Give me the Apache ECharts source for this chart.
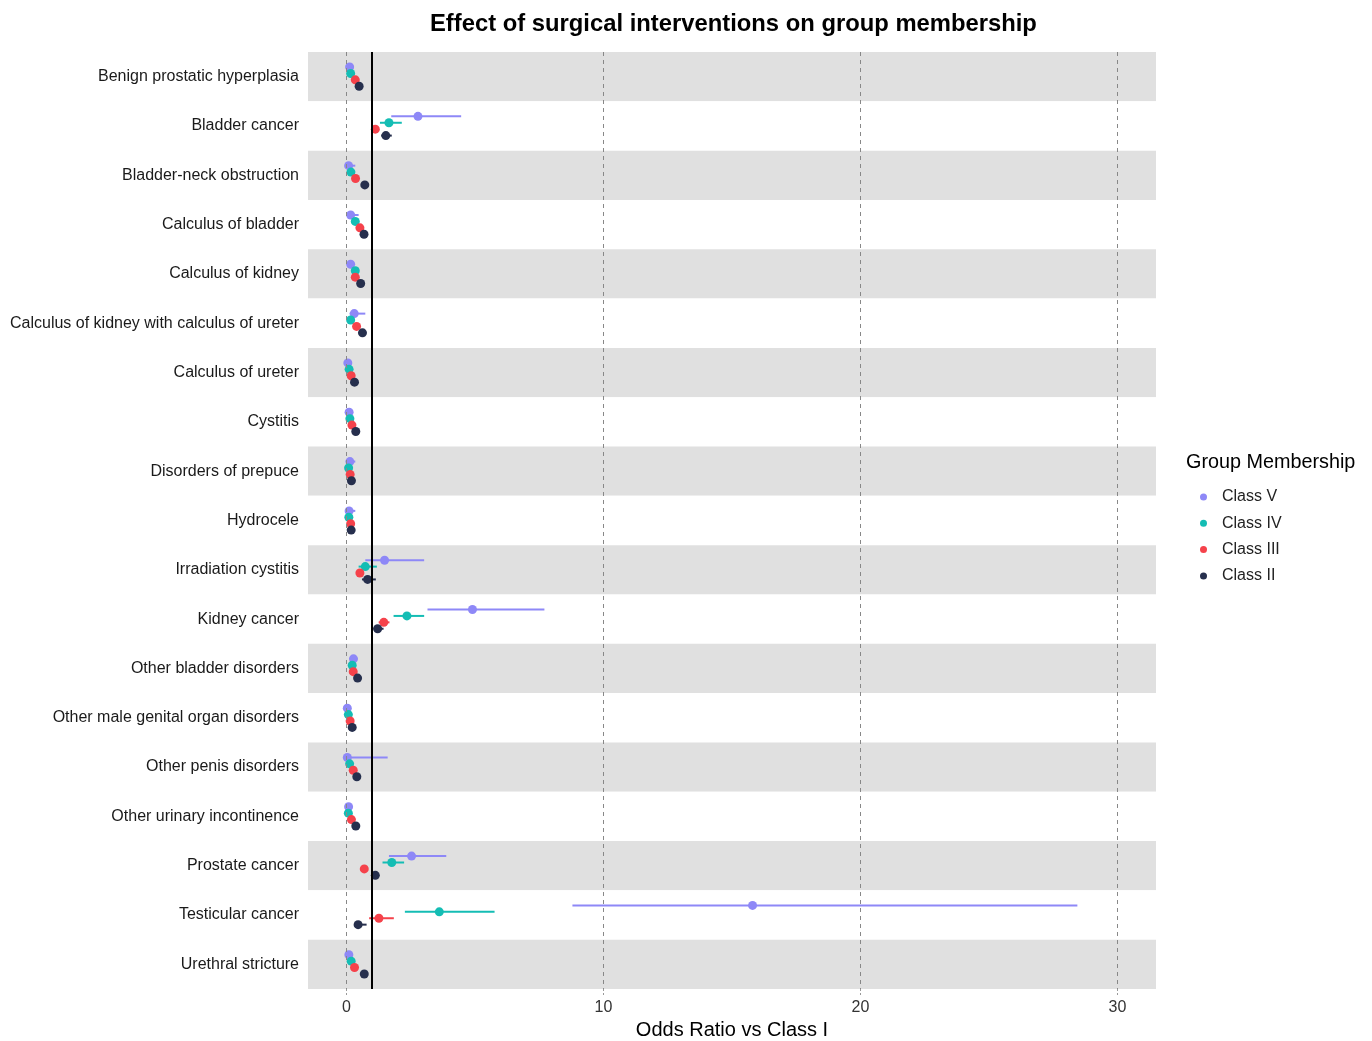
<!DOCTYPE html>
<html>
<head>
<meta charset="utf-8">
<script src="https://cdn.jsdelivr.net/npm/echarts@6/dist/echarts.min.js"></script>
<style>
  html, body { margin: 0; padding: 0; background: #fff; }
  #chart { width: 1372px; height: 1041px; }
</style>
</head>
<body>
<div id="chart"></div>
<script>
const categories = [
  'Benign prostatic hyperplasia',
  'Bladder cancer',
  'Bladder-neck obstruction',
  'Calculus of bladder',
  'Calculus of kidney',
  'Calculus of kidney with calculus of ureter',
  'Calculus of ureter',
  'Cystitis',
  'Disorders of prepuce',
  'Hydrocele',
  'Irradiation cystitis',
  'Kidney cancer',
  'Other bladder disorders',
  'Other male genital organ disorders',
  'Other penis disorders',
  'Other urinary incontinence',
  'Prostate cancer',
  'Testicular cancer',
  'Urethral stricture'
];

// odds ratio estimates and confidence limits, one value per category
const classV_est = [0.12, 2.78, 0.08, 0.16, 0.16, 0.30, 0.05, 0.10, 0.13, 0.10, 1.48, 4.90, 0.27, 0.03, 0.03, 0.08, 2.53, 15.80, 0.09];
const classV_lo  = [0.05, 1.74, 0.03, 0.08, 0.09, 0.12, 0.02, 0.05, 0.05, 0.04, 0.73, 3.15, 0.15, 0.01, 0.01, 0.03, 1.65, 8.79, 0.04];
const classV_hi  = [0.25, 4.46, 0.34, 0.47, 0.28, 0.73, 0.15, 0.22, 0.34, 0.34, 3.02, 7.70, 0.42, 0.12, 1.60, 0.20, 3.88, 28.44, 0.20];

const classIV_est = [0.16, 1.65, 0.17, 0.34, 0.34, 0.16, 0.10, 0.13, 0.08, 0.09, 0.73, 2.35, 0.22, 0.07, 0.12, 0.07, 1.76, 3.61, 0.18];
const classIV_lo  = [0.10, 1.30, 0.10, 0.25, 0.26, 0.08, 0.05, 0.07, 0.03, 0.04, 0.47, 1.83, 0.14, 0.03, 0.06, 0.03, 1.40, 2.27, 0.11];
const classIV_hi  = [0.25, 2.15, 0.28, 0.46, 0.45, 0.30, 0.18, 0.22, 0.18, 0.18, 1.18, 3.02, 0.33, 0.15, 0.22, 0.15, 2.24, 5.76, 0.28];

const classIII_est = [0.34, 1.12, 0.35, 0.52, 0.34, 0.39, 0.18, 0.21, 0.14, 0.16, 0.52, 1.45, 0.26, 0.14, 0.26, 0.19, 0.69, 1.26, 0.31];
const classIII_lo  = [0.28, 1.00, 0.28, 0.44, 0.28, 0.32, 0.14, 0.16, 0.10, 0.12, 0.42, 1.25, 0.20, 0.10, 0.20, 0.14, 0.60, 0.88, 0.25];
const classIII_hi  = [0.41, 1.25, 0.43, 0.61, 0.41, 0.47, 0.23, 0.27, 0.19, 0.21, 0.64, 1.67, 0.33, 0.19, 0.33, 0.25, 0.79, 1.84, 0.38];

const classII_est = [0.49, 1.53, 0.71, 0.68, 0.55, 0.62, 0.31, 0.36, 0.19, 0.18, 0.82, 1.21, 0.43, 0.22, 0.40, 0.36, 1.12, 0.45, 0.69];
const classII_lo  = [0.42, 1.35, 0.62, 0.60, 0.48, 0.54, 0.26, 0.30, 0.15, 0.14, 0.60, 1.05, 0.36, 0.17, 0.33, 0.30, 1.00, 0.35, 0.60];
const classII_hi  = [0.57, 1.76, 0.80, 0.77, 0.63, 0.71, 0.37, 0.43, 0.24, 0.23, 1.14, 1.44, 0.51, 0.27, 0.48, 0.43, 1.25, 0.78, 0.79];

const classNames = ['Class V', 'Class IV', 'Class III', 'Class II'];
const xTicks = [0, 10, 20, 30];
const refValue = 1;

const colors = ['#8e88f7', '#14bdb4', '#f5424b', '#262f4d'];
const dodge = [-0.195, -0.065, 0.065, 0.195];
const font = 'Liberation Sans, Arial, Helvetica, sans-serif';

function rows(est, lo, hi) {
  return est.map((v, i) => [v, i, lo[i], hi[i]]);
}

function forestSeries(name, data, idx) {
  return {
    name: name,
    type: 'custom',
    data: data,
    encode: { x: [0, 2, 3], y: 1 },
    itemStyle: { color: colors[idx] },
    renderItem: function (params, api) {
      const band = api.size([0, 1])[1];
      const off = dodge[idx] * band;
      const p = api.coord([api.value(0), api.value(1)]);
      const a = api.coord([api.value(2), api.value(1)]);
      const b = api.coord([api.value(3), api.value(1)]);
      const y = p[1] + off;
      return {
        type: 'group',
        children: [
          {
            type: 'line',
            z2: 1,
            shape: { x1: a[0], y1: y, x2: b[0], y2: y },
            style: { stroke: colors[idx], lineWidth: 2 }
          },
          {
            type: 'circle',
            z2: 10,
            shape: { cx: p[0], cy: y, r: 4.5 },
            style: { fill: colors[idx] }
          }
        ]
      };
    }
  };
}

const chart = echarts.init(document.getElementById('chart'), null, { renderer: 'canvas' });

const option = {
  animation: false,
  color: colors,
  textStyle: { fontFamily: font },
  graphic: [
    {
      type: 'text',
      left: 430,
      top: 12,
      style: {
        text: 'Effect of surgical interventions on group membership',
        font: 'bold 23.8px ' + font,
        fill: '#000'
      }
    },
    {
      type: 'text',
      left: 1186,
      top: 453,
      style: {
        text: 'Group Membership',
        font: '19.8px ' + font,
        fill: '#000'
      }
    }
  ],
  legend: {
    data: classNames,
    orient: 'vertical',
    left: 1195,
    top: 484,
    itemWidth: 7,
    itemHeight: 7,
    itemGap: 10.3,
    icon: 'circle',
    textStyle: {
      fontSize: 16,
      color: '#222',
      fontFamily: font,
      lineHeight: 16,
      padding: [0, 0, 0, 10]
    }
  },
  grid: {
    left: 308,
    right: 216,
    top: 52,
    bottom: 52,
    outerBoundsMode: 'none',
    containLabel: false
  },
  xAxis: {
    type: 'value',
    min: -1.5,
    max: 31.5,
    splitNumber: 3,
    name: 'Odds Ratio vs Class I',
    nameLocation: 'middle',
    nameGap: 31,
    nameTextStyle: { fontSize: 20, color: '#000', fontFamily: font },
    axisLine: { show: false },
    axisTick: {
      show: true,
      customValues: xTicks,
      length: 6,
      lineStyle: { color: '#999', type: [2, 2] }
    },
    axisLabel: {
      customValues: xTicks,
      fontSize: 16,
      color: '#333',
      margin: 11
    },
    splitLine: { show: false }
  },
  yAxis: {
    type: 'category',
    data: categories,
    inverse: true,
    axisLine: { show: false },
    axisTick: { show: false },
    axisLabel: { fontSize: 16, color: '#1a1a1a', margin: 9, padding: [3, 0, 0, 0] },
    splitLine: { show: false },
    splitArea: {
      show: true,
      areaStyle: { color: ['#e0e0e0', '#ffffff'] }
    }
  },
  series: [
    {
      name: 'guides',
      type: 'line',
      data: [],
      silent: true,
      markLine: {
        silent: true,
        symbol: 'none',
        label: { show: false },
        data: xTicks.map((v) => ({
          xAxis: v,
          lineStyle: { color: '#888', width: 1, type: [4, 4] }
        })).concat([{
          xAxis: refValue,
          lineStyle: { color: '#000', width: 2, type: 'solid' }
        }])
      }
    },
    forestSeries('Class V', rows(classV_est, classV_lo, classV_hi), 0),
    forestSeries('Class IV', rows(classIV_est, classIV_lo, classIV_hi), 1),
    forestSeries('Class III', rows(classIII_est, classIII_lo, classIII_hi), 2),
    forestSeries('Class II', rows(classII_est, classII_lo, classII_hi), 3)
  ]
};

chart.setOption(option);
</script>
</body>
</html>
